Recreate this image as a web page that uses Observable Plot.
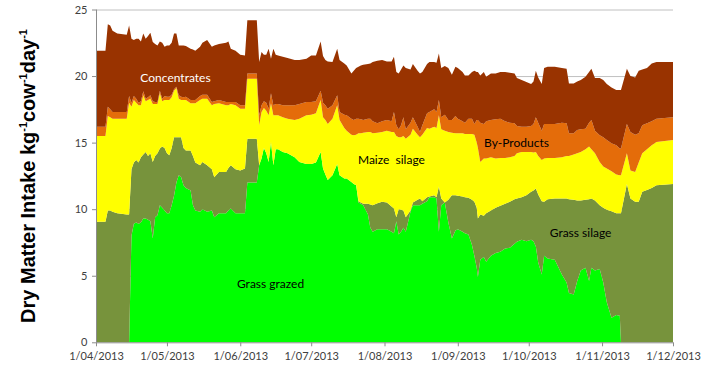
<!DOCTYPE html>
<html><head><meta charset="utf-8">
<script src="https://cdn.jsdelivr.net/npm/d3@7"></script>
<script src="https://cdn.jsdelivr.net/npm/@observablehq/plot@0.6"></script>
<style>
body{margin:0;background:#fff;}
#chart svg{display:block;overflow:visible}
</style></head><body><div id="chart"></div>
<script>
// ---- data ----
const startDate = "2013-04-01";
const endDate = "2013-12-01";
// days after 1 April 2013
const dayOffset = [
 0,4,5,6,7,9,13,14,15,16,
 17,18,19,20,21,22,23,24,25,26,
 27,28,29,30,31,32,33,34,35,36,
 37,38,40,41,42,44,45,47,49,50,
 52,55,56,57,59,61,63,64,68,69,
 70,71,72,73,74,75,76,77,79,81,
 84,86,89,91,93,95,96,97,98,100,
 102,103,105,106,108,109,110,111,112,113,
 115,116,117,119,121,123,125,126,127,128,
 129,130,131,133,134,136,137,138,140,141,
 143,144,145,146,147.5,149,150.5,152,153,155,
 156,157.5,159,160,161,161.5,162.5,164,165,167,
 169,171,173,175,177,178,180,182,184,185,
 186,187,188.5,189.5,191,194,197,199,200,202,
 203.5,205,207,208.5,209.5,211,213,214.5,216,218,
 220,221.5,222,224.5,226,228,229.5,231,233,235,
 237,244];
// cumulative top of each layer (kg DM / cow / day)
const grazedTop = [
 0,0,0,0,0,0,0,0,8.0,8.9,
 9.0,8.9,9.0,9.3,9.3,9.2,9.1,7.8,9.4,9.55,
 10.3,10.1,9.9,9.7,9.7,10.3,11.0,12.0,12.55,12.4,
 11.8,11.6,11.4,10.3,9.9,9.8,10.0,9.8,9.9,9.4,
 9.7,9.7,9.9,10.05,9.7,9.7,9.7,12.0,12.0,13.3,
 13.8,14.6,14.2,13.55,15.05,13.3,14.5,14.5,14.3,14.2,
 13.9,13.55,13.4,13.4,13.5,14.3,13.05,12.6,12.2,12.55,
 13.4,12.55,12.3,12.3,12.05,11.9,11.8,10.5,10.4,10.3,
 9.6,8.6,8.3,8.5,8.5,8.5,8.3,8.2,9.1,8.1,
 8.3,8.6,8.3,9.8,10.3,10.3,10.3,10.4,10.6,10.9,
 10.9,10.8,8.3,10.3,10.5,9.0,7.8,8.4,8.5,8.3,
 8.2,8.1,7.3,6.5,5.6,4.9,6.2,6.4,6.05,6.5,
 6.7,6.8,7.05,7.1,7.4,7.55,7.7,7.6,7.7,7.6,
 7.2,6.0,5.1,6.5,6.3,6.2,5.1,4.5,3.7,3.6,
 4.6,5.4,5.6,4.6,5.6,5.4,5.5,4.5,3.0,1.85,
 2.05,2.0,0,0,0,0,0,0,0,0,
 0,0];
const grassSilageTop = [
 9.05,9.05,9.9,9.9,9.8,9.7,9.6,9.6,13.0,13.5,
 13.7,13.5,13.9,14.1,14.3,14.0,14.2,13.55,14.0,14.2,
 14.55,14.7,14.6,14.2,14.05,14.6,15.4,15.4,15.4,15.4,
 14.6,14.4,14.4,14.0,13.5,13.3,13.55,13.3,13.0,12.4,
 12.8,12.8,13.1,13.3,13.0,12.9,13.05,15.3,15.3,13.3,
 13.8,14.6,14.2,13.55,15.05,13.3,14.5,14.5,14.3,14.2,
 13.9,13.55,13.4,13.4,13.5,14.3,13.05,12.6,12.2,12.55,
 13.4,12.55,12.3,12.3,12.05,11.9,11.8,10.6,10.5,10.4,
 10.4,10.35,10.3,10.45,10.55,10.5,10.2,10.05,9.4,10.0,
 9.95,9.9,9.4,9.9,10.5,10.7,10.8,10.6,10.9,10.95,
 11.05,10.9,11.7,10.8,10.5,10.7,11.05,11.05,11.0,10.95,
 10.9,10.85,10.7,10.55,10.1,9.3,9.6,9.5,9.7,9.9,
 10.1,10.25,10.4,10.55,10.75,10.8,10.9,11.05,11.3,11.4,
 11.55,11.1,10.6,10.55,10.75,10.8,10.8,10.8,10.75,10.7,
 10.65,10.65,10.7,10.75,10.8,10.65,10.3,10.1,9.95,9.85,
 9.7,9.7,9.7,11.9,10.8,10.55,10.55,11.3,11.45,11.6,
 11.8,11.9];
const maizeTop = [
 15.5,15.5,17.0,16.9,16.8,16.8,16.8,18.0,17.7,18.2,
 18.0,17.8,17.8,18.55,18.1,18.2,18.3,17.9,17.9,17.9,
 18.7,18.1,18.2,18.2,18.2,18.4,18.9,19.1,18.3,18.2,
 18.2,18.2,17.95,17.95,17.95,18.2,18.3,18.3,17.8,17.9,
 17.95,17.8,17.8,17.9,17.8,17.55,17.55,19.8,19.8,16.3,
 17.3,17.6,17.4,17.05,17.95,17.05,17.05,17.05,16.9,16.8,
 16.7,16.8,17.05,17.1,17.2,18.2,16.9,16.7,16.4,16.8,
 17.8,16.7,16.1,15.9,15.6,15.55,15.6,15.7,15.7,15.75,
 15.8,15.8,15.7,15.75,15.8,15.9,15.8,15.8,15.5,15.4,
 15.4,15.5,15.3,15.6,16.05,15.6,15.4,15.6,16.1,16.05,
 16.2,16.1,17.05,16.0,15.9,15.8,15.75,15.7,15.7,15.7,
 15.65,15.65,15.65,15.6,15.0,14.6,13.55,13.8,13.8,13.9,
 13.8,13.85,13.85,13.9,14.0,14.2,14.3,14.3,14.3,14.25,
 14.3,14.0,13.7,13.8,13.85,13.85,13.9,14.0,14.0,14.1,
 14.2,14.3,14.5,14.7,14.5,14.2,13.55,13.2,13.05,12.85,
 12.6,12.55,12.55,14.2,12.9,12.8,13.5,14.2,14.5,14.8,
 15.05,15.2];
const byProductsTop = [
 16.2,16.2,17.7,17.5,17.3,17.3,17.3,18.5,18.0,18.5,
 18.3,18.0,18.1,18.85,18.3,18.4,18.55,18.1,18.05,18.05,
 18.9,18.3,18.5,18.45,18.45,18.6,19.0,19.2,18.55,18.45,
 18.4,18.45,18.2,18.2,18.2,18.5,18.6,18.6,18.05,18.1,
 18.2,18.05,18.05,18.05,18.05,17.8,17.8,20.2,20.2,17.05,
 17.8,18.1,18.0,17.55,18.7,17.8,17.9,17.9,17.8,17.8,
 17.8,17.9,18.05,18.05,18.1,18.9,18.0,17.8,17.55,17.8,
 18.55,17.3,17.1,17.05,16.8,16.7,16.8,16.8,16.75,16.7,
 16.8,16.8,16.6,16.45,16.6,16.7,16.6,17.3,16.3,16.0,
 16.3,16.9,16.0,16.5,16.9,16.2,15.8,16.3,17.2,17.3,
 17.5,17.3,18.2,16.9,17.1,16.7,16.7,17.0,16.8,16.6,
 16.5,16.8,16.8,16.4,16.7,16.7,16.5,16.4,16.6,16.7,
 16.75,16.8,16.6,16.5,16.45,16.25,16.2,16.2,16.25,16.4,
 16.9,16.5,15.9,16.4,16.4,16.4,16.5,16.45,15.7,15.7,
 15.95,16.0,16.05,16.5,16.7,15.9,15.55,15.4,15.2,14.95,
 14.8,14.55,14.55,16.4,15.8,15.6,15.7,16.3,16.45,16.6,
 16.8,16.9];
const concentratesTop = [
 21.9,21.9,23.9,23.8,23.4,23.2,23.1,23.8,22.8,22.7,
 22.8,22.8,22.6,23.2,22.8,23.0,23.25,22.55,22.4,22.3,
 22.6,22.5,22.2,22.3,22.3,22.5,23.2,23.2,22.3,22.3,
 22.3,22.25,22.05,22.0,21.9,22.2,22.5,22.7,22.2,22.3,
 22.4,22.5,22.6,22.05,21.9,21.6,21.55,24.2,24.2,21.05,
 21.8,21.6,21.6,22.05,21.3,22.05,21.6,21.55,21.45,21.35,
 21.2,21.2,21.3,21.55,21.55,22.6,21.5,21.2,21.1,21.05,
 22.05,21.2,20.95,20.8,20.2,20.4,20.6,20.7,20.8,20.85,
 20.9,20.95,21.05,21.15,21.2,21.1,21.1,21.45,20.3,20.2,
 20.5,20.8,20.6,20.5,20.9,20.4,20.2,20.3,20.9,21.05,
 21.05,21.0,21.7,20.6,20.75,20.6,20.1,20.7,20.6,20.3,
 20.05,20.05,20.3,20.4,20.3,20.3,20.05,20.3,19.95,20.2,
 20.2,20.3,20.3,20.25,20.2,19.85,19.7,19.55,19.4,19.6,
 20.4,19.9,19.4,20.6,20.7,20.7,20.6,20.55,19.45,19.45,
 19.6,19.7,19.95,20.3,20.55,19.85,19.85,19.7,19.4,19.15,
 18.95,18.95,18.95,20.55,20.0,19.9,20.4,20.5,20.6,20.95,
 21.05,21.05];

const seriesNames = ["Grass grazed","Grass silage","Maize silage","By-Products","Concentrates"];
const seriesColors = ["#00ff00","#77933c","#ffff00","#e46c0a","#993300"];
const xTickDates = ["2013-04-01","2013-05-01","2013-06-01","2013-07-01","2013-08-01","2013-09-01","2013-10-01","2013-11-01","2013-12-01"];
const yTicks = [0,5,10,15,20,25];
// in-chart labels
const labelText = ["Concentrates","Maize\u00a0 silage","By-Products","Grass silage","Grass grazed"];
const labelDay = [33.4,124.7,177.6,204.7,73.6];
const labelValue = [19.85,13.7,14.96,8.2,4.38];
const labelFill = ["#ffffff","#000000","#000000","#000000","#000000"];

// ---- build table ----
const t0 = new Date(startDate + "T00:00:00Z");
const toDate = d => new Date(t0.getTime() + d * 864e5);
const tops = [grazedTop, grassSilageTop, maizeTop, byProductsTop, concentratesTop];
const rows = [];
seriesNames.forEach((name, k) => {
  dayOffset.forEach((d, i) => {
    rows.push({series: name, date: toDate(d), y1: k === 0 ? 0 : tops[k - 1][i], y2: tops[k][i]});
  });
});
const labels = labelText.map((t, i) => ({text: t, date: toDate(labelDay[i]), y: labelValue[i], fill: labelFill[i]}));
const xDomain = [new Date(startDate + "T00:00:00Z"), new Date(endDate + "T00:00:00Z")];

const chart = Plot.plot({
  width: 705, height: 376,
  marginLeft: 96, marginRight: 32, marginTop: 9.5, marginBottom: 33.7,
  style: {fontFamily: "Lato, 'Liberation Sans', sans-serif", fontSize: "11px", color: "#595959", background: "#ffffff"},
  x: {type: "utc", domain: xDomain, label: null},
  y: {domain: [0, 25], label: null},
  color: {domain: seriesNames, range: seriesColors},
  marks: [
    Plot.ruleY(yTicks.filter(v => v > 0), {stroke: "#c0c0c0", strokeWidth: 1}),
    Plot.areaY(rows, {x: "date", y1: "y1", y2: "y2", z: "series", fill: "series", curve: "linear"}),
    Plot.ruleX([xDomain[0]], {stroke: "#8c8c8c"}),
    Plot.ruleY([0], {stroke: "#8c8c8c"}),
    Plot.axisX({ticks: xTickDates.map(s => new Date(s + "T00:00:00Z")), tickFormat: d3.utcFormat("%-d/%m/%Y"), tickSize: 4, tickPadding: 5, label: null, stroke: "#8c8c8c", fill: "#404040"}),
    Plot.axisY({ticks: yTicks, tickSize: 4, tickPadding: 5, label: null, stroke: "#8c8c8c", fill: "#404040"}),
    Plot.text(labels.filter(d => d.fill === "#ffffff"), {x: "date", y: "y", text: "text", fill: "#ffffff", fontSize: 12}),
    Plot.text(labels.filter(d => d.fill !== "#ffffff"), {x: "date", y: "y", text: "text", fill: "#000000", fontSize: 12})
  ]
});
document.getElementById("chart").appendChild(chart);

// y axis title with superscripts
const title = d3.select(chart).append("text")
  .attr("transform", "translate(35,176) rotate(-90)")
  .attr("text-anchor", "middle")
  .attr("fill", "#000")
  .style("font-family", "'Liberation Sans', Arial, sans-serif")
  .style("font-weight", "bold")
  .style("font-size", "20px");
const parts = [["Dry Matter Intake kg", false], ["-1", true], ["cow", false], ["-1", true], ["day", false], ["-1", true]];
let raised = false;
parts.forEach(([s, sup]) => {
  const ts = title.append("tspan").text(s);
  if (sup && !raised) { ts.attr("dy", -8).style("font-size", "11px"); raised = true; }
  else if (sup) { ts.style("font-size", "11px"); }
  else if (!sup && raised) { ts.attr("dy", 8); raised = false; }
});
</script></body></html>
